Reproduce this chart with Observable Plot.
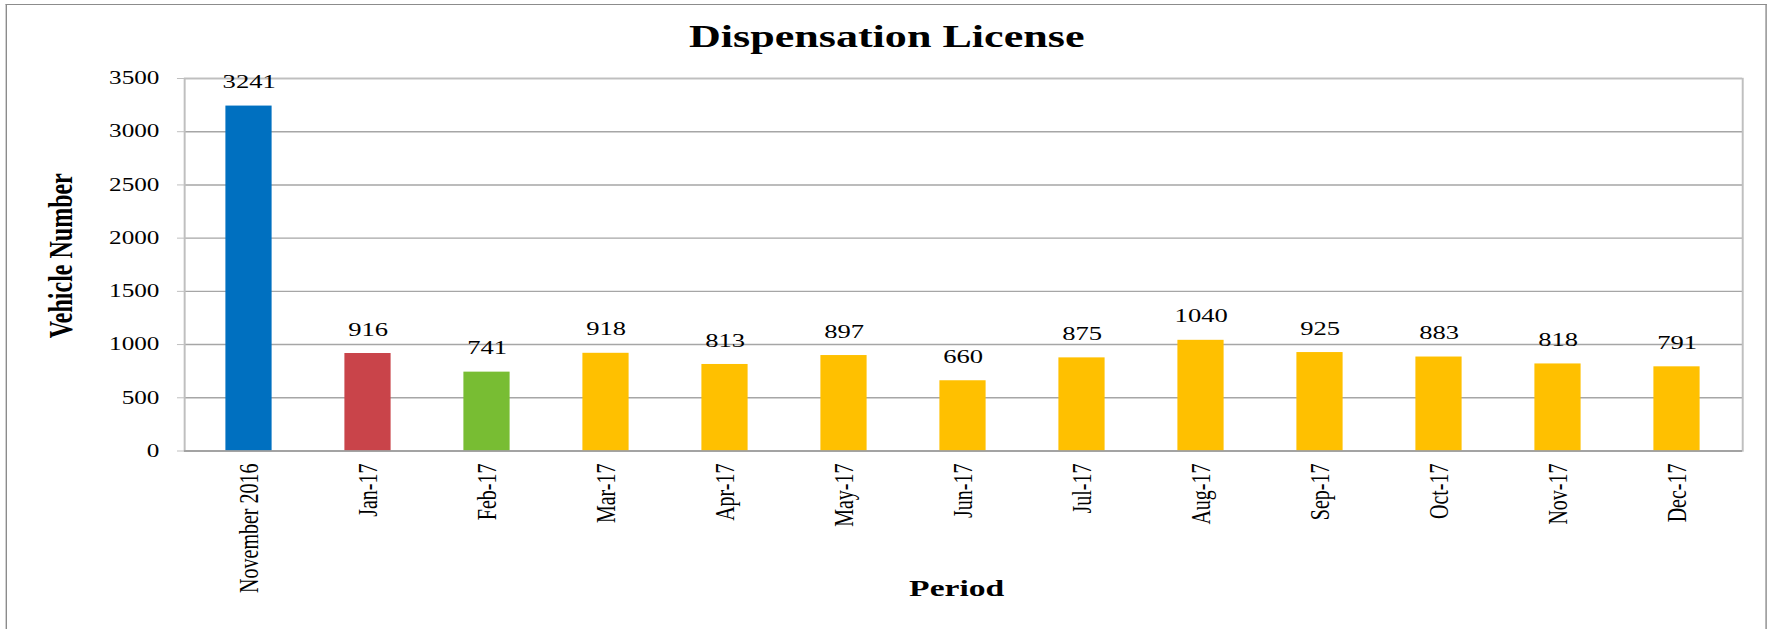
<!DOCTYPE html>
<html><head><meta charset="utf-8">
<script src="https://cdn.jsdelivr.net/npm/d3@7"></script>
<script src="https://cdn.jsdelivr.net/npm/@observablehq/plot@0.6"></script>
<style>
html,body{margin:0;padding:0;background:#fff;overflow:hidden;}
#stage{position:relative;width:1265px;height:629px;transform:scaleX(1.4);transform-origin:0 0;font-family:"Liberation Serif","Times New Roman",serif;}
#frame{position:absolute;left:4px;top:4px;width:1258px;height:700px;border:1.5px solid #8c8c8c;border-bottom:none;box-sizing:border-box;pointer-events:none;}
</style></head><body><div id="stage"><div id="frame"></div></div>
<script>
const periods = ["November 2016","Jan-17","Feb-17","Mar-17","Apr-17","May-17","Jun-17","Jul-17","Aug-17","Sep-17","Oct-17","Nov-17","Dec-17"];
const values = [3241,916,741,918,813,897,660,875,1040,925,883,818,791];
const groups = ["Nov 2016","Jan","Feb","Month","Month","Month","Month","Month","Month","Month","Month","Month","Month"];
const groupNames = ["Nov 2016","Jan","Feb","Month"];
const groupColors = ["#0070C0","#C9444A","#78BD33","#FFC000"];
const yTicks = [0,500,1000,1500,2000,2500,3000,3500];
const titleText = "Dispensation License";
const yLabel = "Vehicle Number";
const xLabel = "Period";

const data = periods.map((p,i)=>({period:p, value:values[i], group:groups[i]}));
const serif = "'Liberation Serif','Times New Roman',serif";

const chart = Plot.plot({
  width:1265, height:629,
  marginLeft:131.4, marginRight:20.7, marginTop:78, marginBottom:178.5,
  style:{background:"transparent", fontFamily:serif, color:"#000", overflow:"visible"},
  x:{domain:periods, paddingInner:0.61, paddingOuter:0.305, label:null},
  y:{domain:[0,3500], label:null},
  color:{domain:groupNames, range:groupColors},
  marks:[
    Plot.gridY(yTicks, {stroke:"#a6a6a6", strokeOpacity:1, strokeWidth:1.4}),
    Plot.frame({stroke:"#bfbfbf", strokeWidth:1.4}),
    Plot.barY(data, {x:"period", y:"value", fill:"group"}),
    Plot.ruleY([0], {stroke:"#9a9a9a", strokeWidth:1.6}),
    Plot.axisY(yTicks, {tickSize:5, tickPadding:13, fontSize:18, stroke:"#bfbfbf", tickFormat:d=>String(d), label:null}),
    Plot.axisX({tickSize:0, tickPadding:12.5, tickRotate:-90, fontSize:20, label:null}),
    Plot.text(data, {x:"period", y:"value", text:d=>String(d.value), dy:-24, fontSize:19, fill:"#000"}),
    Plot.text([titleText], {text:d=>d, frameAnchor:"top", textAnchor:"middle", dx:-55, dy:-32, lineAnchor:"bottom", fontSize:31.5, fontWeight:"bold", fill:"#000"}),
    Plot.text([yLabel], {text:d=>d, frameAnchor:"left", textAnchor:"middle", dx:-87.8, dy:-9, rotate:-90, fontSize:24, fontWeight:"bold", fill:"#000"}),
    Plot.text([xLabel], {text:d=>d, frameAnchor:"bottom", textAnchor:"middle", dx:-5, dy:144.5, lineAnchor:"bottom", fontSize:24, fontWeight:"bold", fill:"#000"})
  ]
});
document.getElementById("stage").prepend(chart);
</script>
</body></html>
